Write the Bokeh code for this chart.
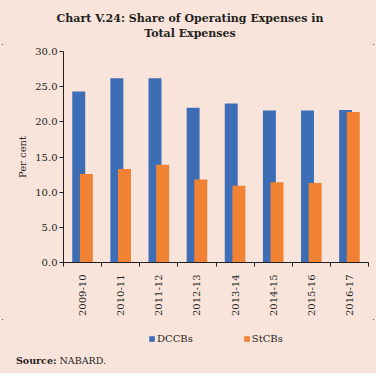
import math
from bokeh.plotting import figure
from bokeh.layouts import column
from bokeh.models import (FixedTicker, Range1d, Legend, LegendItem, Div,
                          ColumnDataSource, NumeralTickFormatter)
from bokeh.embed import file_html
from bokeh.resources import INLINE

# ---- data ----
years = ["2009-10", "2010-11", "2011-12", "2012-13", "2013-14", "2014-15", "2015-16", "2016-17"]
dccbs = [24.3, 26.2, 26.2, 22.0, 22.6, 21.6, 21.6, 21.7]
stcbs = [12.6, 13.3, 13.9, 11.8, 10.9, 11.4, 11.3, 21.4]
y_ticks = [0, 5, 10, 15, 20, 25, 30]
series_names = ["DCCBs", "StCBs"]
title_lines = ["Chart V.24: Share of Operating Expenses in", "Total Expenses"]
source_label = "Source:"
source_text = "NABARD."

BG = "#F9E4DC"
BLUE = "#3C6DB5"
ORANGE = "#F28233"
DARK = "#231F20"
FONT = "DejaVu Serif"
W = 376

# ---- title ----
title_div = Div(
    text=('<div style="width:380px;text-align:center;font-family:\'DejaVu Serif\';'
          'font-weight:bold;font-size:11px;line-height:15px;padding-top:11px;color:%s">'
          '%s<br>%s</div>') % (DARK, title_lines[0], title_lines[1]),
    width=W, height=44, margin=0, styles={"background": BG})

# ---- main chart ----
n = len(years)
pos = [i + 0.5 for i in range(n)]
src = ColumnDataSource(dict(
    x_d=[x - 0.1 for x in pos], x_s=[x + 0.1 for x in pos],
    dccbs=dccbs, stcbs=stcbs))

p = figure(width=W, height=275, output_backend="svg", toolbar_location=None,
           x_range=Range1d(0, n), y_range=Range1d(0, 30),
           min_border_left=63, min_border_right=8, min_border_top=7,
           min_border_bottom=56, margin=0)
p.background_fill_color = BG
p.border_fill_color = BG
p.outline_line_color = None
p.grid.grid_line_color = None

p.vbar(x="x_d", top="dccbs", width=0.34, source=src, color=BLUE, line_color=None)
p.vbar(x="x_s", top="stcbs", width=0.34, source=src, color=ORANGE, line_color=None)

ya = p.yaxis[0]
ya.ticker = FixedTicker(ticks=y_ticks)
ya.formatter = NumeralTickFormatter(format="0.0")
ya.axis_label = "Per cent"
ya.axis_label_text_font = FONT
ya.axis_label_text_font_style = "normal"
ya.axis_label_text_font_size = "10px"
ya.axis_label_text_color = DARK
ya.axis_label_standoff = 4
ya.major_label_text_font = FONT
ya.major_label_text_font_size = "10px"
ya.major_label_text_color = DARK
ya.major_tick_out = 4
ya.major_tick_in = 0
ya.minor_tick_line_color = None
ya.major_label_standoff = 2
ya.axis_line_color = DARK
ya.major_tick_line_color = DARK

xa = p.xaxis[0]
xa.ticker = FixedTicker(ticks=pos, minor_ticks=list(range(n + 1)))
xa.major_label_overrides = {x: y for x, y in zip(pos, years)}
xa.major_label_orientation = math.pi / 2
xa.major_label_text_font = FONT
xa.major_label_text_font_size = "10px"
xa.major_label_text_color = DARK
xa.major_tick_line_color = None
xa.minor_tick_out = 4
xa.minor_tick_in = 0
xa.minor_tick_line_color = DARK
xa.axis_line_color = DARK
xa.major_label_standoff = 6

# ---- legend strip ----
bot = figure(width=W, height=30, output_backend="svg", toolbar_location=None,
             x_range=Range1d(0, n), y_range=Range1d(0, 30),
             x_axis_location=None, y_axis_location=None,
             min_border_left=63, min_border_right=8, min_border_top=0,
             min_border_bottom=0, margin=0)
bot.background_fill_color = BG
bot.border_fill_color = BG
bot.outline_line_color = None
bot.grid.grid_line_color = None
k1 = bot.vbar(x="x_d", top="dccbs", width=0.34, source=src, color=BLUE,
              line_color=None, visible=False)
k2 = bot.vbar(x="x_s", top="stcbs", width=0.34, source=src, color=ORANGE,
              line_color=None, visible=False)
legend = Legend(items=[LegendItem(label=series_names[0], renderers=[k1]),
                       LegendItem(label=series_names[1], renderers=[k2])],
                orientation="horizontal", location=(85, 5), click_policy="none",
                glyph_width=7, glyph_height=7, label_height=10, label_standoff=2,
                spacing=50, padding=0, margin=0, border_line_color=None,
                background_fill_alpha=0, inactive_fill_alpha=0, label_text_font=FONT,
                label_text_font_size="10px", label_text_color=DARK)
bot.add_layout(legend, "center")

# ---- source ----
source_div = Div(
    text=('<div style="font-family:\'DejaVu Serif\';font-size:9.5px;line-height:12px;'
          'padding-top:6px;padding-left:16px;color:%s"><b>%s</b> %s</div>')
         % (DARK, source_label, source_text),
    width=W, height=24, margin=0, styles={"background": BG})

layout = column(title_div, p, bot, source_div, spacing=0,
                styles={"background": BG, "outline": "1px solid #231F20",
                        "outline-offset": "-3px"})

open("out.html", "w").write(file_html(layout, INLINE))
